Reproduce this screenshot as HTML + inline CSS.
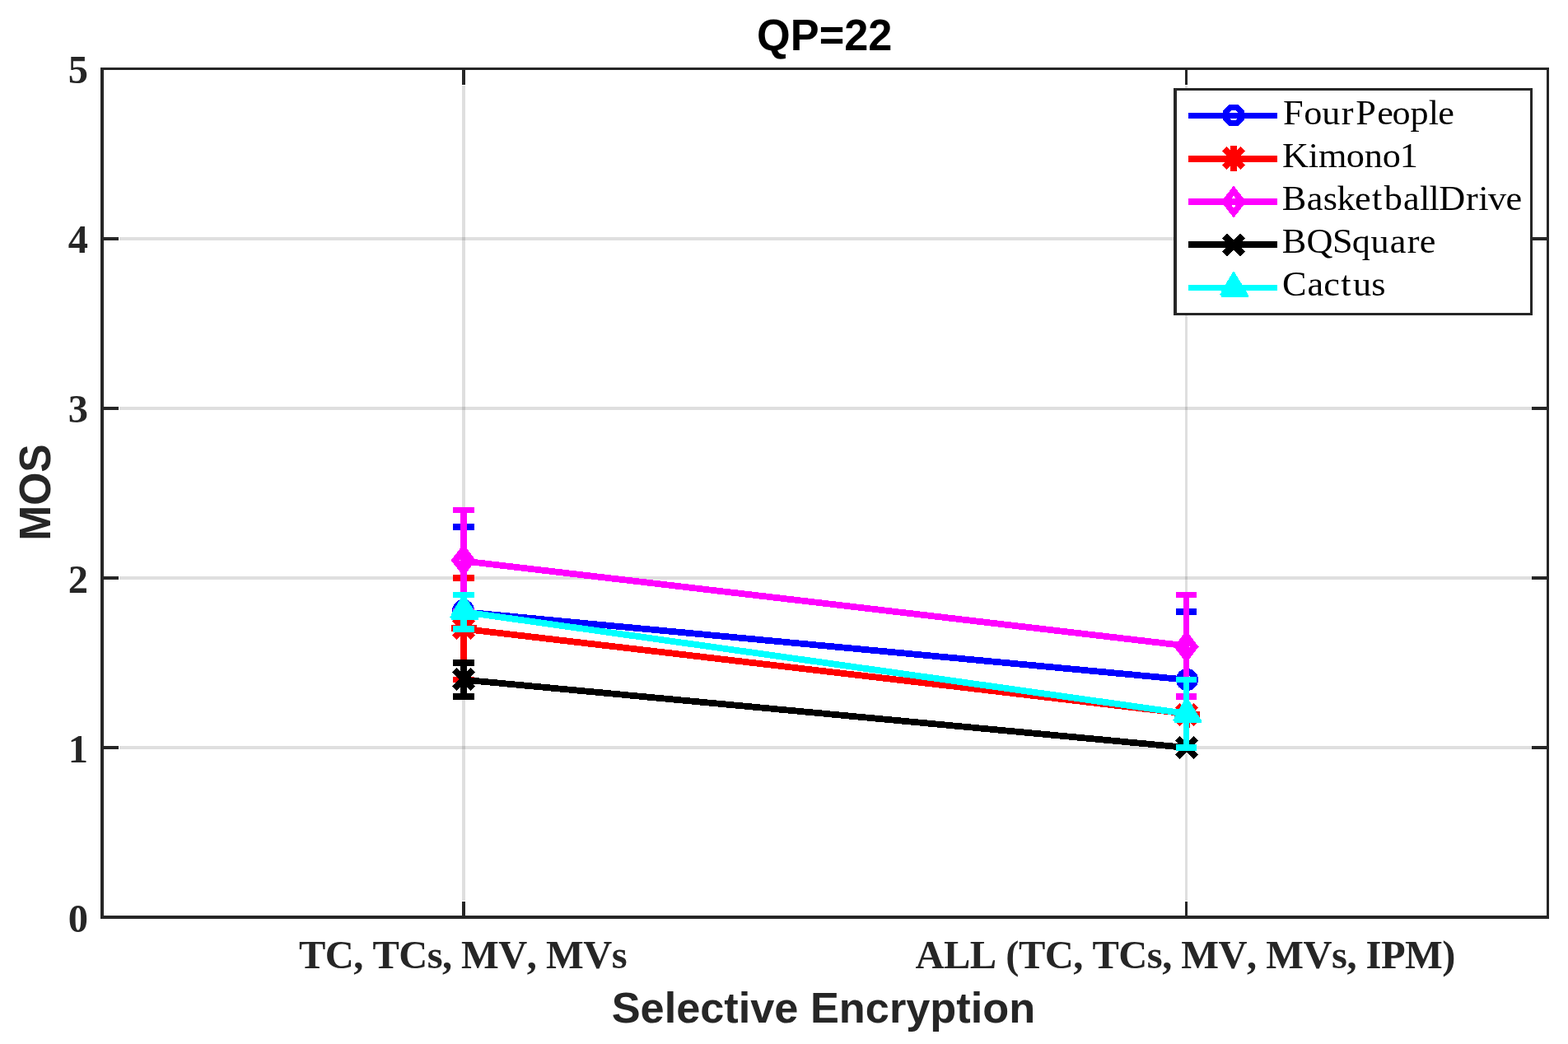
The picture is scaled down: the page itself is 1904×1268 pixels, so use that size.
<!DOCTYPE html>
<html lang="en"><head><meta charset="utf-8"><title>QP=22</title>
<style>html,body{margin:0;padding:0;background:#fff;}body{width:1904px;height:1268px;overflow:hidden;}svg{display:block;}text{font-kerning:none;}.ser{font-family:"Liberation Serif",serif;font-weight:bold;fill:#262626;}.san{font-family:"Liberation Sans",sans-serif;font-weight:bold;}.leg{font-family:"Liberation Serif",serif;fill:#000;}</style></head><body>
<svg width="1904" height="1268" viewBox="0 0 1904 1268">
<rect x="0" y="0" width="1904" height="1268" fill="#fff"/>
<g fill="#262626" fill-opacity="0.15" shape-rendering="crispEdges">
<rect x="145" y="906" width="1733" height="4"/>
<rect x="145" y="700" width="1733" height="4"/>
<rect x="145" y="494" width="1733" height="4"/>
<rect x="145" y="288" width="1733" height="4"/>
<rect x="561" y="104" width="4" height="990"/>
<rect x="1439" y="104" width="3" height="990"/>
</g>
<g fill="#262626" shape-rendering="crispEdges">
<rect x="122" y="82" width="4" height="1034"/>
<rect x="1878" y="82" width="3" height="1034"/>
<rect x="122" y="82" width="1759" height="3"/>
<rect x="122" y="1112" width="1759" height="4"/>
<rect x="126" y="906" width="18" height="4"/>
<rect x="1860" y="906" width="18" height="4"/>
<rect x="126" y="700" width="18" height="4"/>
<rect x="1860" y="700" width="18" height="4"/>
<rect x="126" y="494" width="18" height="4"/>
<rect x="1860" y="494" width="18" height="4"/>
<rect x="126" y="288" width="18" height="4"/>
<rect x="1860" y="288" width="18" height="4"/>
<rect x="561" y="85" width="4" height="18"/>
<rect x="561" y="1095" width="4" height="17"/>
<rect x="1439" y="85" width="3" height="18"/>
<rect x="1439" y="1095" width="3" height="17"/>
</g>
<g class="ser" font-size="48.5" text-anchor="end">
<text x="107" y="1132">0</text>
<text x="107" y="926">1</text>
<text x="107" y="720">2</text>
<text x="107" y="513">3</text>
<text x="107" y="307">4</text>
<text x="107" y="101">5</text>
</g>
<g class="ser" font-size="48.5">
<text x="363" y="1175.9" textLength="398.5" lengthAdjust="spacing">TC, TCs, MV, MVs</text>
<text x="1111.5" y="1175.9" textLength="656" lengthAdjust="spacing">ALL (TC, TCs, MV, MVs, IPM)</text>
</g>
<text class="san" font-size="52.3" text-anchor="middle" transform="translate(1001.2,61) scale(1,1.035)" fill="#000">QP=22</text>
<text class="san" font-size="52.3" text-anchor="middle" x="999.9" y="1241.6" fill="#262626">Selective Encryption</text>
<text class="san" font-size="52.3" text-anchor="middle" transform="translate(60.9,598) rotate(-90) scale(0.985,1.04)" fill="#262626">MOS</text>
<g shape-rendering="crispEdges" stroke-linecap="butt">
<g fill="#0000ff">
<line x1="563" y1="743.2" x2="1440.5" y2="825.6" stroke="#0000ff" stroke-width="7.8"/>
<rect x="559" y="640" width="8" height="206"/>
<rect x="550" y="636" width="26" height="8"/>
<rect x="550" y="842" width="26" height="8"/>
<rect x="1437" y="743" width="7" height="165"/>
<rect x="1428" y="739" width="25" height="8"/>
<rect x="1428" y="904" width="25" height="8"/>
<path d="M549.1 741.5A13.5 13.5 0 1 1 576.1 741.5A13.5 13.5 0 1 1 549.1 741.5ZM557.6 741A5 5 0 1 1 567.6 741A5 5 0 1 1 557.6 741Z" fill="#0000ff" fill-rule="evenodd"/>
<path d="M1428 825.5A13.5 13.5 0 1 1 1455 825.5A13.5 13.5 0 1 1 1428 825.5ZM1436.5 825A5 5 0 1 1 1446.5 825A5 5 0 1 1 1436.5 825Z" fill="#0000ff" fill-rule="evenodd"/>
</g>
<g fill="#ff0000">
<line x1="563" y1="763.8" x2="1440.5" y2="866.8" stroke="#ff0000" stroke-width="7.8"/>
<rect x="559" y="702" width="8" height="124"/>
<rect x="550" y="698" width="26" height="8"/>
<rect x="550" y="822" width="26" height="7"/>
<rect x="1437" y="826" width="7" height="82"/>
<rect x="1428" y="822" width="25" height="7"/>
<rect x="1428" y="904" width="25" height="8"/>
<path d="M547.5 758.85L578.5 758.85L578.5 767.15L547.5 767.15ZM567.15 747.5L567.15 778.5L558.85 778.5L558.85 747.5ZM554.76 748.89L577.11 771.24L571.24 777.11L548.89 754.76ZM548.89 771.24L571.24 748.89L577.11 754.76L554.76 777.11Z" fill="#ff0000" fill-rule="nonzero"/>
<path d="M1425.5 863.85L1456.5 863.85L1456.5 872.15L1425.5 872.15ZM1445.15 852.5L1445.15 883.5L1436.85 883.5L1436.85 852.5ZM1432.76 853.89L1455.11 876.24L1449.24 882.11L1426.89 859.76ZM1426.89 876.24L1449.24 853.89L1455.11 859.76L1432.76 882.11Z" fill="#ff0000" fill-rule="nonzero"/>
</g>
<g fill="#ff00ff">
<line x1="563" y1="681.4" x2="1440.5" y2="784.4" stroke="#ff00ff" stroke-width="7.8"/>
<rect x="559" y="620" width="8" height="123"/>
<rect x="550" y="616" width="26" height="7"/>
<rect x="550" y="739" width="26" height="8"/>
<rect x="1437" y="723" width="7" height="123"/>
<rect x="1428" y="719" width="25" height="7"/>
<rect x="1428" y="842" width="25" height="8"/>
<path d="M562.7 660.8L577.75 680.5L562.7 700.2L547.65 680.5ZM562.7 674.5L567.4 680.5L562.7 686.5L558 680.5Z" fill="#ff00ff" fill-rule="evenodd"/>
<path d="M1440.5 765.8L1455.55 785.5L1440.5 805.2L1425.45 785.5ZM1440.5 779.5L1445.2 785.5L1440.5 791.5L1435.8 785.5Z" fill="#ff00ff" fill-rule="evenodd"/>
</g>
<g fill="#000000">
<line x1="563" y1="825.6" x2="1440.5" y2="908" stroke="#000000" stroke-width="7.8"/>
<rect x="559" y="805" width="8" height="41"/>
<rect x="550" y="801" width="26" height="8"/>
<rect x="550" y="842" width="26" height="8"/>
<rect x="1437" y="908" width="7" height="0"/>
<rect x="1428" y="904" width="25" height="8"/>
<rect x="1428" y="904" width="25" height="8"/>
<path d="M554.76 810.89L577.11 833.24L571.24 839.11L548.89 816.76ZM548.89 833.24L571.24 810.89L577.11 816.76L554.76 839.11Z" fill="#000000" fill-rule="nonzero"/>
<path d="M1432.76 893.89L1455.11 916.24L1449.24 922.11L1426.89 899.76ZM1426.89 916.24L1449.24 893.89L1455.11 899.76L1432.76 922.11Z" fill="#000000" fill-rule="nonzero"/>
</g>
<g fill="#00ffff">
<line x1="563" y1="743.2" x2="1440.5" y2="866.8" stroke="#00ffff" stroke-width="7.8"/>
<rect x="559" y="723" width="8" height="41"/>
<rect x="550" y="719" width="26" height="7"/>
<rect x="550" y="760" width="26" height="8"/>
<rect x="1437" y="826" width="7" height="82"/>
<rect x="1428" y="822" width="25" height="7"/>
<rect x="1428" y="904" width="25" height="8"/>
<path d="M563 720.8L581.3 750.7L581.3 752.9L547.8 752.9L547.8 751L545.6 749.4L547.8 747.6L547.8 745.8Z" fill="#00ffff" fill-rule="evenodd"/>
<path d="M1441 845.8L1459.3 875.7L1459.3 877.9L1425.8 877.9L1425.8 876L1423.6 874.4L1425.8 872.6L1425.8 870.8Z" fill="#00ffff" fill-rule="evenodd"/>
</g>
</g>
<g>
<rect x="1425" y="107" width="436" height="276" fill="#fff"/>
<path d="M1425 107H1861V383H1425ZM1429 110V380H1858V110Z" fill="#262626" fill-rule="evenodd" shape-rendering="crispEdges"/>
<g shape-rendering="crispEdges">
<rect x="1443" y="137" width="108" height="7" fill="#0000ff"/>
<path d="M1492.62 127L1503.38 127L1511 134.62L1511 145.38L1503.38 153L1492.62 153L1485 145.38L1485 134.62ZM1495.64 134.3L1500.36 134.3L1503.7 137.64L1503.7 142.36L1500.36 145.7L1495.64 145.7L1492.3 142.36L1492.3 137.64Z" fill="#0000ff" fill-rule="evenodd"/>
<rect x="1443" y="189" width="108" height="8" fill="#ff0000"/>
<path d="M1502.15 177L1502.15 208L1493.85 208L1493.85 177ZM1489.76 177.89L1512.11 200.24L1506.24 206.11L1483.89 183.76ZM1483.89 200.24L1506.24 177.89L1512.11 183.76L1489.76 206.11Z" fill="#ff0000" fill-rule="nonzero"/>
<rect x="1443" y="241" width="108" height="8" fill="#ff00ff"/>
<path d="M1498 225.35L1513.05 245.05L1498 264.75L1482.95 245.05ZM1498 237.55L1503.7 245.05L1498 252.55L1492.3 245.05Z" fill="#ff00ff" fill-rule="evenodd"/>
<rect x="1443" y="293" width="108" height="8" fill="#000000"/>
<path d="M1489.76 283.29L1512.11 305.64L1506.24 311.51L1483.89 289.16ZM1483.89 305.64L1506.24 283.29L1512.11 289.16L1489.76 311.51Z" fill="#000000" fill-rule="nonzero"/>
<rect x="1443" y="346" width="108" height="7" fill="#00ffff"/>
<path d="M1498 328.9L1516.3 358.8L1516.3 361L1482.8 361L1482.8 359.1L1480.6 357.5L1482.8 355.7L1482.8 353.9Z" fill="#00ffff" fill-rule="evenodd"/>
</g>
<g class="leg" font-size="41.8">
<text transform="translate(1556.8,150.9) scale(1.06,1)" x="1.21 25.05 45.8 67.93 84.36 108.81 126.2 146.95 167.99 178.71" y="0">FourPeople</text>
<text transform="translate(1556.8,203.2) scale(1.06,1)" x="0.2 30.24 41.63 73.64 94.39 115.15 134.81" y="0">Kimono1</text>
<text transform="translate(1556.8,255) scale(1.06,1)" x="-0.02 28.38 47.1 62.9 83.18 103.02 116.96 138.88 157.65 168.57 179.78 210.63 224.95 236.15 256.43" y="0">BasketballDrive</text>
<text transform="translate(1556.8,307) scale(1.06,1)" x="-0.02 28.03 57.72 80.2 101.51 123.44 143.29 157.4" y="0">BQSquare</text>
<text transform="translate(1556.8,358.6) scale(1.06,1)" x="0.25 28.93 47.49 67.33 81.26 102.26" y="0">Cactus</text>
</g>
</g>
</svg>
</body></html>
